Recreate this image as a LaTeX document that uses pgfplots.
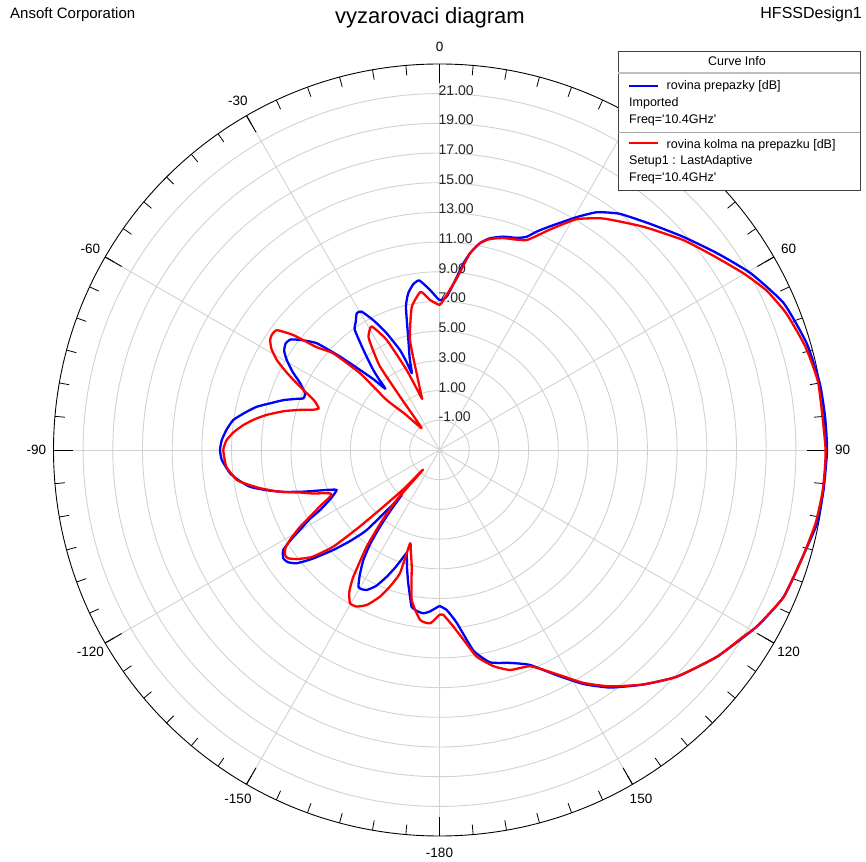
\documentclass[border=0pt]{standalone}
\usepackage{fontspec}
\setmainfont{Liberation Sans}
\usepackage{pgfplots}
\usepackage{pgfplotstable}
\pgfplotsset{compat=1.18}
\definecolor{gridgray}{RGB}{210,210,210}
\definecolor{curveblue}{RGB}{0,0,255}
\definecolor{curvered}{RGB}{255,0,0}

% angle (deg, clockwise from top), gain (dB)
\pgfplotstableread{
ang db
-180 7.5
-176.5 7.9
-174.3 8.05
-172 7.95
-169.9 7.72
-168.5 7.0
-166.8 6.22
-164.5 5.2
-162.4 4.3
-161.8 4.44
-159.5 5.4
-157.4 6.24
-155 7.1
-152.5 7.63
-150.5 7.75
-149.3 7.7
-147.5 7.0
-145.3 6.01
-143.5 4.8
-142.2 3.53
-141 2.2
-140 0.96
-139.5 1.8
-137.7 4.3
-135.5 5.6
-133.3 6.8
-130.5 8.3
-128.4 9.28
-126.5 9.7
-124.7 9.8
-122.6 9.49
-121 8.6
-119.8 7.83
-118 6.9
-116.7 6.0
-114 5.0
-111.3 4.43
-110.3 4.7
-109.5 5.06
-107 6.6
-105 7.9
-103 9.0
-101 10.0
-98.5 10.7
-96.3 11.2
-92.6 11.68
-90 11.78
-87.4 11.68
-84.5 11.4
-81.7 11.03
-79 10.3
-76.7 9.65
-74.5 8.8
-72.3 8.04
-70.5 7.3
-69.2 6.8
-67.1 6.83
-64.4 7.4
-62 8.2
-59.5 8.94
-57.5 9.4
-55.4 9.6
-53.5 9.5
-51.7 8.96
-49 7.96
-46.8 6.19
-44.8 4.6
-43 3.5
-41.5 2.5
-40.5 3.3
-39.6 4.0
-37.5 5.3
-35.2 6.9
-33.2 7.3
-31.2 7.76
-29.4 7.7
-27 6.8
-24.5 5.7
-21.6 4.24
-20.5 3.3
-19.8 2.5
-18 3.5
-15.8 4.7
-13.2 6.9
-11.3 7.76
-9 8.3
-6.8 8.5
-3.4 7.8
0 7.1
2.7 7.34
5.7 8.7
7.3 9.67
8.8 10.4
11.1 11.2
13.4 11.66
16.7 12.0
20 12.2
22.2 12.5
24 13.1
26.3 13.8
30.5 15.2
33.5 16.2
37.3 17.0
42.9 17.8
48.8 18.8
54.6 19.9
60.4 21.1
66.9 22.2
73.8 22.75
80.1 23.0
85 23.06
90 23.1
96 23.0
101 22.9
106.3 22.5
113.1 22.2
119.1 21.45
126.7 20.3
133.7 19.1
139.1 17.9
144.3 16.7
148.4 15.5
152.5 14.1
157.2 12.7
161.7 12.1
166.6 11.7
170.4 10.7
174.3 8.7
177.4 7.79
180 7.5
}\bluedata

\pgfplotstableread{
ang db
-180 8.1
-176.9 8.69
-173.5 8.52
-169.5 7.27
-166.6 5.08
-164.5 4.2
-162.5 3.59
-162.2 5.72
-160 6.8
-157.9 7.66
-155 8.5
-152.1 8.93
-149.7 8.95
-147.5 8.3
-145.8 7.32
-143 5.15
-141 3.2
-139.4 1.43
-140 -1.27
-137.5 0.5
-135.3 2.37
-133.8 4.5
-132.3 6.67
-130 8.2
-127.4 9.1
-125.5 9.55
-124.2 9.58
-122.5 9.3
-121 8.75
-119 7.8
-117.2 6.8
-115 5.8
-112.7 4.87
-111.3 5.0
-109 6.0
-107 6.8
-104.5 8.2
-102 9.36
-100 10.2
-98.4 10.8
-94.5 11.4
-90 11.56
-87.3 11.35
-85 10.9
-82.7 10.3
-80.5 9.6
-78.5 8.87
-76 7.8
-74 6.8
-72.5 6.0
-71 5.6
-68.4 6.1
-65 7.6
-63 8.6
-61.1 9.5
-59 10.2
-57 10.6
-55.5 10.7
-53.6 10.6
-51.8 9.5
-50.1 7.8
-47.7 6.67
-46 4.44
-46.6 1.9
-43.8 0.36
-39.4 -1.1
-37.1 0.29
-36.5 1.47
-35.5 3.9
-33.5 5.2
-32.1 6.0
-28.8 6.5
-25.6 5.2
-22.3 2.8
-19 0.7
-18.5 0.8
-16.6 2.4
-15 4.7
-11 6.8
-7.1 7.7
-5.9 7.6
-3.6 7.12
0 6.77
1.5 7.1
5.7 8.6
8.8 10.4
11.1 11.2
13.4 11.6
16.7 11.9
22.5 12.3
26.6 13.6
30.7 15.07
35.3 16.1
42.4 17.36
49.3 18.67
54.6 19.6
59.8 20.67
64 21.5
68.5 22.1
74.2 22.6
80 22.9
90 23.0
96 22.95
101 22.8
106.3 22.5
113.1 22.2
119.1 21.45
121.6 21.0
126.7 20.3
133.7 19.1
139.1 17.9
144.3 16.6
148.4 15.4
152.5 14.0
157.2 12.8
162.2 12.56
166 12.0
169.8 11.14
172.5 10.0
175.5 8.93
178.7 8.1
180 8.1
}\reddata

\begin{document}
\begin{tikzpicture}[x=1pt,y=1pt]
\useasboundingbox (0,0) rectangle (866,861);
\fill[white] (0,0) rectangle (866,861);
% header texts
\node[anchor=base west, inner sep=0, font=\fontsize{15}{17}\selectfont] at (10,842) {Ansoft Corporation};
\node[anchor=base east, inner sep=0, font=\fontsize{16}{18}\selectfont] at (862,842) {HFSSDesign1};
\node[anchor=base, inner sep=0, font=\fontsize{22}{24}\selectfont] at (430,837) {vyzarovaci diagram};
% polar grid
\begin{scope}[shift={(439.5,411)}]
  \foreach \k in {1,...,12} \draw[gridgray, line width=0.9pt] (0,0) circle[radius=29.7*\k];
  \foreach \a in {0,30,...,330} \draw[gridgray, line width=0.9pt] (0,0) -- (90-\a:386);
  \draw[black, line width=0.9pt] (0,0) circle[radius=386];
  \foreach \a in {0,5,...,355} \draw[black, line width=0.8pt] (90-\a:386) -- (90-\a:376);
  \foreach \a in {0,30,...,330} \draw[black, line width=0.9pt] (90-\a:386) -- (90-\a:367);
  \foreach \a/\lab in {0/0,60/60,90/90,120/120,150/150,180/-180,210/-150,240/-120,270/-90,300/-60,330/-30}
    \node[inner sep=0, font=\fontsize{13.5}{15}\selectfont] at (90-\a:403) {\lab};
  \foreach \k/\lab in {1/-1.00,2/1.00,3/3.00,4/5.00,5/7.00,6/9.00,7/11.00,8/13.00,9/15.00,10/17.00,11/19.00,12/21.00}
    \node[anchor=base west, inner sep=0, font=\fontsize{14}{16}\selectfont, text=black!85] at (-1,29.7*\k-1.5) {\lab};
\end{scope}
\begin{axis}[at={(439.5pt,411pt)}, anchor=origin, x=14.85pt, y=14.85pt,
  xmin=-26, xmax=26, ymin=-26, ymax=26, hide axis, clip=false]
\addplot[curveblue, line width=2.3pt, line join=round, no marks, smooth, tension=0.3]
  table[x expr={(\thisrow{db}+3)*sin(\thisrow{ang})}, y expr={(\thisrow{db}+3)*cos(\thisrow{ang})}] {\bluedata};
\addplot[curvered, line width=2.3pt, line join=round, no marks, smooth, tension=0.3]
  table[x expr={(\thisrow{db}+3)*sin(\thisrow{ang})}, y expr={(\thisrow{db}+3)*cos(\thisrow{ang})}] {\reddata};
\end{axis}
% legend box
\draw[black!75, fill=white, line width=0.9pt] (618,671) rectangle (860,810);
\draw[black!25, line width=1.6pt] (618,787.7) -- (860,787.7);
\draw[black!35, line width=0.8pt] (618,728.7) -- (860,728.7);
\begin{scope}[font=\fontsize{12.5}{14}\selectfont]
\node[anchor=base, inner sep=0] at (737,795) {Curve Info};
\draw[curveblue, line width=2pt] (629,775.3) -- (658,775.3);
\node[anchor=base west, inner sep=0] at (666.5,771) {rovina prepazky [dB]};
\node[anchor=base west, inner sep=0] at (629,754.3) {Imported};
\node[anchor=base west, inner sep=0] at (629,737) {Freq=\textquotesingle 10.4GHz\textquotesingle};
\draw[curvered, line width=2pt] (629,717.7) -- (658,717.7);
\node[anchor=base west, inner sep=0] at (666.5,712.7) {rovina kolma na prepazku [dB]};
\node[anchor=base west, inner sep=0] at (629,696) {Setup1 : LastAdaptive};
\node[anchor=base west, inner sep=0] at (629,679.3) {Freq=\textquotesingle 10.4GHz\textquotesingle};
\end{scope}
\end{tikzpicture}
\end{document}
